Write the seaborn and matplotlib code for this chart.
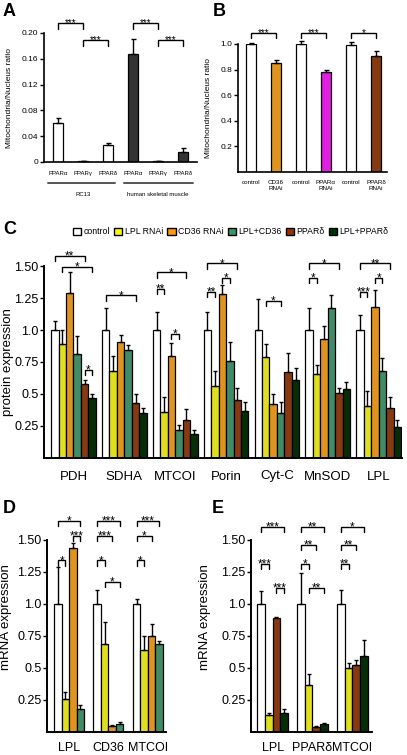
import matplotlib
matplotlib.use('Agg')
import matplotlib.pyplot as plt
import numpy as np
import pandas as pd
import seaborn as sns
from matplotlib.patches import Patch

sns.set_theme(style='white', rc={'axes.edgecolor': 'black', 'xtick.color': 'black',
                                 'ytick.color': 'black', 'text.color': 'black',
                                 'axes.labelcolor': 'black'})
plt.rcParams['font.family'] = ['Liberation Sans', 'DejaVu Sans']

W, H = 407, 755

# ---- panel A data
a_ids = ['RC13 a', 'RC13 g', 'RC13 d', 'hsm a', 'hsm g', 'hsm d']
a_labels = ['PPARα', 'PPARγ', 'PPARδ', 'PPARα', 'PPARγ', 'PPARδ']
a_mean = [0.060, 0.001, 0.026, 0.167, 0.001, 0.015]
a_err = [0.008, 0.0005, 0.003, 0.023, 0.0005, 0.006]
a_colors = ['white', 'white', 'white', '#333333', '#333333', '#333333']
a_sig = [(0, 1, 0.2155, '***'), (1, 2, 0.189, '***'), (3, 4, 0.2155, '***'), (4, 5, 0.189, '***')]

# ---- panel B data
b_ids = ['c1', 'cd36', 'c2', 'ppara', 'c3', 'ppard']
b_labels = ['control', 'CD36\nRNAi', 'control', 'PPARα\nRNAi', 'control', 'PPARδ\nRNAi']
b_mean = [1.0, 0.85, 1.0, 0.785, 0.995, 0.91]
b_err = [0.01, 0.025, 0.02, 0.01, 0.02, 0.035]
b_colors = ['white', '#FF9900', 'white', '#FF00FF', 'white', '#993300']
b_sig = [(0, 1, 1.086, '***'), (2, 3, 1.086, '***'), (4, 5, 1.086, '*')]

# ---- panel C data (protein expression)
proteins = ['PDH', 'SDHA', 'MTCOI', 'Porin', 'Cyt-C', 'MnSOD', 'LPL']
conditions = ['control', 'LPL RNAi', 'CD36 RNAi', 'LPL+CD36', 'PPARδ', 'LPL+PPARδ']
cond_colors = ['#FFFFFF', '#FFFF00', '#FF9900', '#339966', '#993300', '#003300']
prot_mean = {
    'control':   [1.00, 1.00, 1.00, 1.00, 1.00, 1.00, 1.00],
    'LPL RNAi':  [0.89, 0.68, 0.36, 0.56, 0.79, 0.66, 0.41],
    'CD36 RNAi': [1.29, 0.91, 0.80, 1.28, 0.42, 0.93, 1.18],
    'LPL+CD36':  [0.81, 0.84, 0.22, 0.76, 0.35, 1.17, 0.68],
    'PPARδ':     [0.58, 0.43, 0.30, 0.45, 0.67, 0.51, 0.39],
    'LPL+PPARδ': [0.47, 0.35, 0.19, 0.37, 0.61, 0.54, 0.24],
}
prot_err = {
    'control':   [0.07, 0.17, 0.14, 0.14, 0.24, 0.17, 0.12],
    'LPL RNAi':  [0.11, 0.12, 0.12, 0.12, 0.10, 0.07, 0.11],
    'CD36 RNAi': [0.16, 0.05, 0.10, 0.07, 0.08, 0.10, 0.13],
    'LPL+CD36':  [0.14, 0.04, 0.04, 0.15, 0.09, 0.10, 0.10],
    'PPARδ':     [0.03, 0.07, 0.08, 0.10, 0.15, 0.04, 0.09],
    'LPL+PPARδ': [0.03, 0.04, 0.03, 0.07, 0.09, 0.05, 0.06],
}
# (group, bar i, bar j, level, label)
c_sig = [(0, 0, 4, 1.58, '**'), (0, 1, 5, 1.49, '*'), (0, 4, 5, 0.69, '*'),
         (1, 0, 4, 1.27, '*'),
         (2, 0, 4, 1.45, '*'), (2, 0, 1, 1.32, '**'), (2, 2, 3, 0.97, '*'),
         (3, 0, 4, 1.52, '*'), (3, 2, 3, 1.41, '*'), (3, 0, 1, 1.30, '**'),
         (4, 1, 3, 1.23, '*'),
         (5, 0, 4, 1.52, '*'), (5, 0, 1, 1.41, '*'),
         (6, 0, 4, 1.52, '**'), (6, 2, 3, 1.41, '*'), (6, 0, 1, 1.30, '***')]

# ---- panel D data (mRNA, CD36 arm)
genes_d = ['LPL', 'CD36', 'MTCOI']
conds_d = ['control', 'LPL RNAi', 'CD36 RNAi', 'LPL+CD36']
d_mean = {'control': [1.0, 1.0, 1.0], 'LPL RNAi': [0.26, 0.69, 0.64],
          'CD36 RNAi': [1.44, 0.045, 0.75], 'LPL+CD36': [0.18, 0.065, 0.69]}
d_err = {'control': [0.29, 0.11, 0.04], 'LPL RNAi': [0.05, 0.17, 0.11],
         'CD36 RNAi': [0.04, 0.01, 0.09], 'LPL+CD36': [0.03, 0.015, 0.02]}
d_sig = [(0, 0, 3, 1.65, '*'), (0, 2, 3, 1.53, '***'), (0, 0, 1, 1.34, '*'),
         (1, 0, 3, 1.65, '***'), (1, 0, 2, 1.53, '***'), (1, 0, 1, 1.34, '*'), (1, 1, 3, 1.17, '*'),
         (2, 0, 3, 1.65, '***'), (2, 0, 2, 1.53, '*'), (2, 0, 1, 1.34, '*')]

# ---- panel E data (mRNA, PPARδ arm)
genes_e = ['LPL', 'PPARδ', 'MTCOI']
conds_e = ['control', 'LPL RNAi', 'PPARδ', 'LPL+PPARδ']
e_mean = {'control': [1.0, 1.0, 1.0], 'LPL RNAi': [0.13, 0.37, 0.50],
          'PPARδ': [0.89, 0.04, 0.52], 'LPL+PPARδ': [0.15, 0.06, 0.59]}
e_err = {'control': [0.10, 0.24, 0.11], 'LPL RNAi': [0.02, 0.08, 0.04],
         'PPARδ': [0.01, 0.01, 0.04], 'LPL+PPARδ': [0.03, 0.01, 0.13]}
e_sig = [(0, 0, 3, 1.60, '***'), (0, 0, 1, 1.31, '***'), (0, 2, 3, 1.125, '***'),
         (1, 0, 3, 1.60, '**'), (1, 0, 2, 1.46, '**'), (1, 0, 1, 1.31, '*'), (1, 1, 3, 1.125, '**'),
         (2, 0, 3, 1.60, '*'), (2, 0, 2, 1.46, '**'), (2, 0, 1, 1.31, '**')]

mrna_ticks = [0.25, 0.5, 0.75, 1.0, 1.25, 1.5]
mrna_ticklabels = ['0.25', '0.5', '0.75', '1.0', '1.25', '1.50']


def px_axes(fig, left, right, top, bottom):
    return fig.add_axes([left / W, 1 - bottom / H, (right - left) / W, (bottom - top) / H])


def style_axes(ax, lw, ysize):
    sns.despine(ax=ax)
    for s in ('left', 'bottom'):
        ax.spines[s].set_linewidth(lw)
    ax.tick_params(axis='y', direction='out', length=3, width=1, labelsize=ysize, pad=1, left=True)
    ax.tick_params(axis='x', length=0)
    ax.set_xlabel('')


def draw_sig(ax, xs, y, leg, label, fs, lw=1.0):
    ax.plot([xs[0], xs[0], xs[1], xs[1]], [y - leg, y, y, y - leg], color='black',
            lw=lw, clip_on=False, solid_joinstyle='miter')
    ax.annotate(label, ((xs[0] + xs[1]) / 2, y), xytext=(0, -0.42 * fs + 1),
                textcoords='offset points', ha='center', va='baseline',
                fontsize=fs, annotation_clip=False)


def grouped(ax, cats, conds, colors, means, errs, width):
    rows = [(c, k, means[k][i]) for k in conds for i, c in enumerate(cats)]
    df = pd.DataFrame(rows, columns=['cat', 'cond', 'val'])
    sns.barplot(data=df, x='cat', y='val', hue='cond', order=cats, hue_order=conds,
                palette=colors, width=width, gap=0, errorbar=None, legend=False,
                edgecolor='black', linewidth=0.9, ax=ax)
    xs = np.array(sorted(p.get_x() + p.get_width() / 2 for p in ax.patches)).reshape(len(cats), len(conds))
    for j, k in enumerate(conds):
        ax.errorbar(xs[:, j], means[k], yerr=[np.zeros(len(cats)), errs[k]], fmt='none',
                    ecolor='black', elinewidth=1, capsize=1.5, capthick=1, zorder=3)
    return xs


fig = plt.figure(figsize=(W / 100, H / 100), dpi=100)

# ---------------- A
axA = px_axes(fig, 44, 197, 33, 162)
dfA = pd.DataFrame({'bar': a_ids, 'ratio': a_mean})
sns.barplot(data=dfA, x='bar', y='ratio', hue='bar', palette=dict(zip(a_ids, a_colors)),
            width=0.4, errorbar=None, legend=False, edgecolor='black', linewidth=0.9, ax=axA)
axA.errorbar(range(6), a_mean, yerr=[np.zeros(6), a_err], fmt='none', ecolor='black',
             elinewidth=1, capsize=1.8, capthick=1)
style_axes(axA, 1.2, 6)
axA.set_xlim(-0.56, 5.56)
axA.set_ylim(0, 0.2)
axA.set_yticks([0, 0.04, 0.08, 0.12, 0.16, 0.20])
axA.set_yticklabels(['0', '0.04', '0.08', '0.12', '0.16', '0.20'])
axA.set_xticks(range(6))
axA.set_xticklabels(a_labels, fontsize=4.3)
axA.tick_params(axis='x', pad=6.5)
axA.set_ylabel('Mitochondria/Nucleus ratio', fontsize=6)
axA.yaxis.set_label_coords(-0.2, 0.5)
for i, j, y, lab in a_sig:
    draw_sig(axA, (i, j), y, 0.009, lab, 7)
trA = axA.get_xaxis_transform()
for x0, x1, xm, name in [(-0.4, 2.28, 1.0, 'RC13'), (2.64, 5.4, 4.0, 'human skeletal muscle')]:
    axA.plot([x0, x1], [-0.163, -0.163], color='#555555', lw=1.4, transform=trA, clip_on=False)
    axA.text(xm, -0.25, name, transform=trA, ha='center', va='center', fontsize=4.3)

# ---------------- B
axB = px_axes(fig, 238, 387, 44, 172)
dfB = pd.DataFrame({'bar': b_ids, 'ratio': b_mean})
sns.barplot(data=dfB, x='bar', y='ratio', hue='bar', palette=dict(zip(b_ids, b_colors)),
            width=0.4, errorbar=None, legend=False, edgecolor='black', linewidth=0.9, ax=axB)
axB.errorbar(range(6), b_mean, yerr=[np.zeros(6), b_err], fmt='none', ecolor='black',
             elinewidth=1, capsize=1.8, capthick=1, clip_on=False)
style_axes(axB, 1.2, 6)
axB.set_xlim(-0.52, 5.44)
axB.set_ylim(0, 1.0)
axB.set_yticks([0.2, 0.4, 0.6, 0.8, 1.0])
axB.set_yticklabels(['0.2', '0.4', '0.6', '0.8', '1.0'])
axB.set_xticks(range(6))
axB.set_xticklabels(b_labels, fontsize=4.5, linespacing=1.1)
axB.tick_params(axis='x', pad=6)
axB.set_ylabel('Mitochondria/Nucleus ratio', fontsize=6)
axB.yaxis.set_label_coords(-0.175, 0.5)
for i, j, y, lab in b_sig:
    draw_sig(axB, (i, j), y, 0.04, lab, 7)

# ---------------- C
axC = px_axes(fig, 44, 402, 266, 458)
xsC = grouped(axC, proteins, conditions, cond_colors, prot_mean, prot_err, 0.88)
style_axes(axC, 1.4, 9)
axC.set_xlim(-0.58, 6.46)
axC.set_ylim(0, 1.5)
axC.set_yticks(mrna_ticks)
axC.set_yticklabels(mrna_ticklabels)
axC.tick_params(axis='x', labelsize=9.5, pad=9)
axC.set_ylabel('protein expression', fontsize=9.5)
axC.yaxis.set_label_coords(-0.083, 0.5)
for g, i, j, y, lab in c_sig:
    draw_sig(axC, (xsC[g, i], xsC[g, j]), y, 0.04, lab, 8.5)
fig.legend(handles=[Patch(facecolor=c, edgecolor='black', label=l) for c, l in zip(cond_colors, conditions)],
           ncol=6, loc='center', bbox_to_anchor=(0.567, 0.693), frameon=False, fontsize=6.3,
           handlelength=0.95, handleheight=0.95, handletextpad=0.25, columnspacing=0.5, borderpad=0)

# ---------------- D
axD = px_axes(fig, 47, 166, 540, 732)
xsD = grouped(axD, genes_d, conds_d, cond_colors[:4], d_mean, d_err, 0.76)
style_axes(axD, 1.4, 9)
axD.set_xlim(-0.56, 2.46)
axD.set_ylim(0, 1.5)
axD.set_yticks(mrna_ticks)
axD.set_yticklabels(mrna_ticklabels)
axD.tick_params(axis='x', labelsize=9, pad=7)
axD.set_ylabel('mRNA expression', fontsize=9.5)
axD.yaxis.set_label_coords(-0.29, 0.6)
for g, i, j, y, lab in d_sig:
    draw_sig(axD, (xsD[g, i], xsD[g, j]), y, 0.04, lab, 8.5)

# ---------------- E
axE = px_axes(fig, 251, 372, 540, 732)
e_colors = [cond_colors[0], cond_colors[1], cond_colors[4], cond_colors[5]]
xsE = grouped(axE, genes_e, conds_e, e_colors, e_mean, e_err, 0.76)
style_axes(axE, 1.4, 9)
axE.set_xlim(-0.54, 2.49)
axE.set_ylim(0, 1.5)
axE.set_yticks(mrna_ticks)
axE.set_yticklabels(mrna_ticklabels)
axE.tick_params(axis='x', labelsize=9, pad=7)
axE.set_ylabel('mRNA expression', fontsize=9.5)
axE.yaxis.set_label_coords(-0.33, 0.6)
for g, i, j, y, lab in e_sig:
    draw_sig(axE, (xsE[g, i], xsE[g, j]), y, 0.04, lab, 8.5)

# panel letters
for x, y, s in [(3, 3, 'A'), (213, 3, 'B'), (3, 221, 'C'), (3, 500, 'D'), (212, 500, 'E')]:
    fig.text(x / W, 1 - y / H, s, fontsize=13, fontweight='bold', va='top', ha='left')

fig.savefig('out.png', dpi=100)
